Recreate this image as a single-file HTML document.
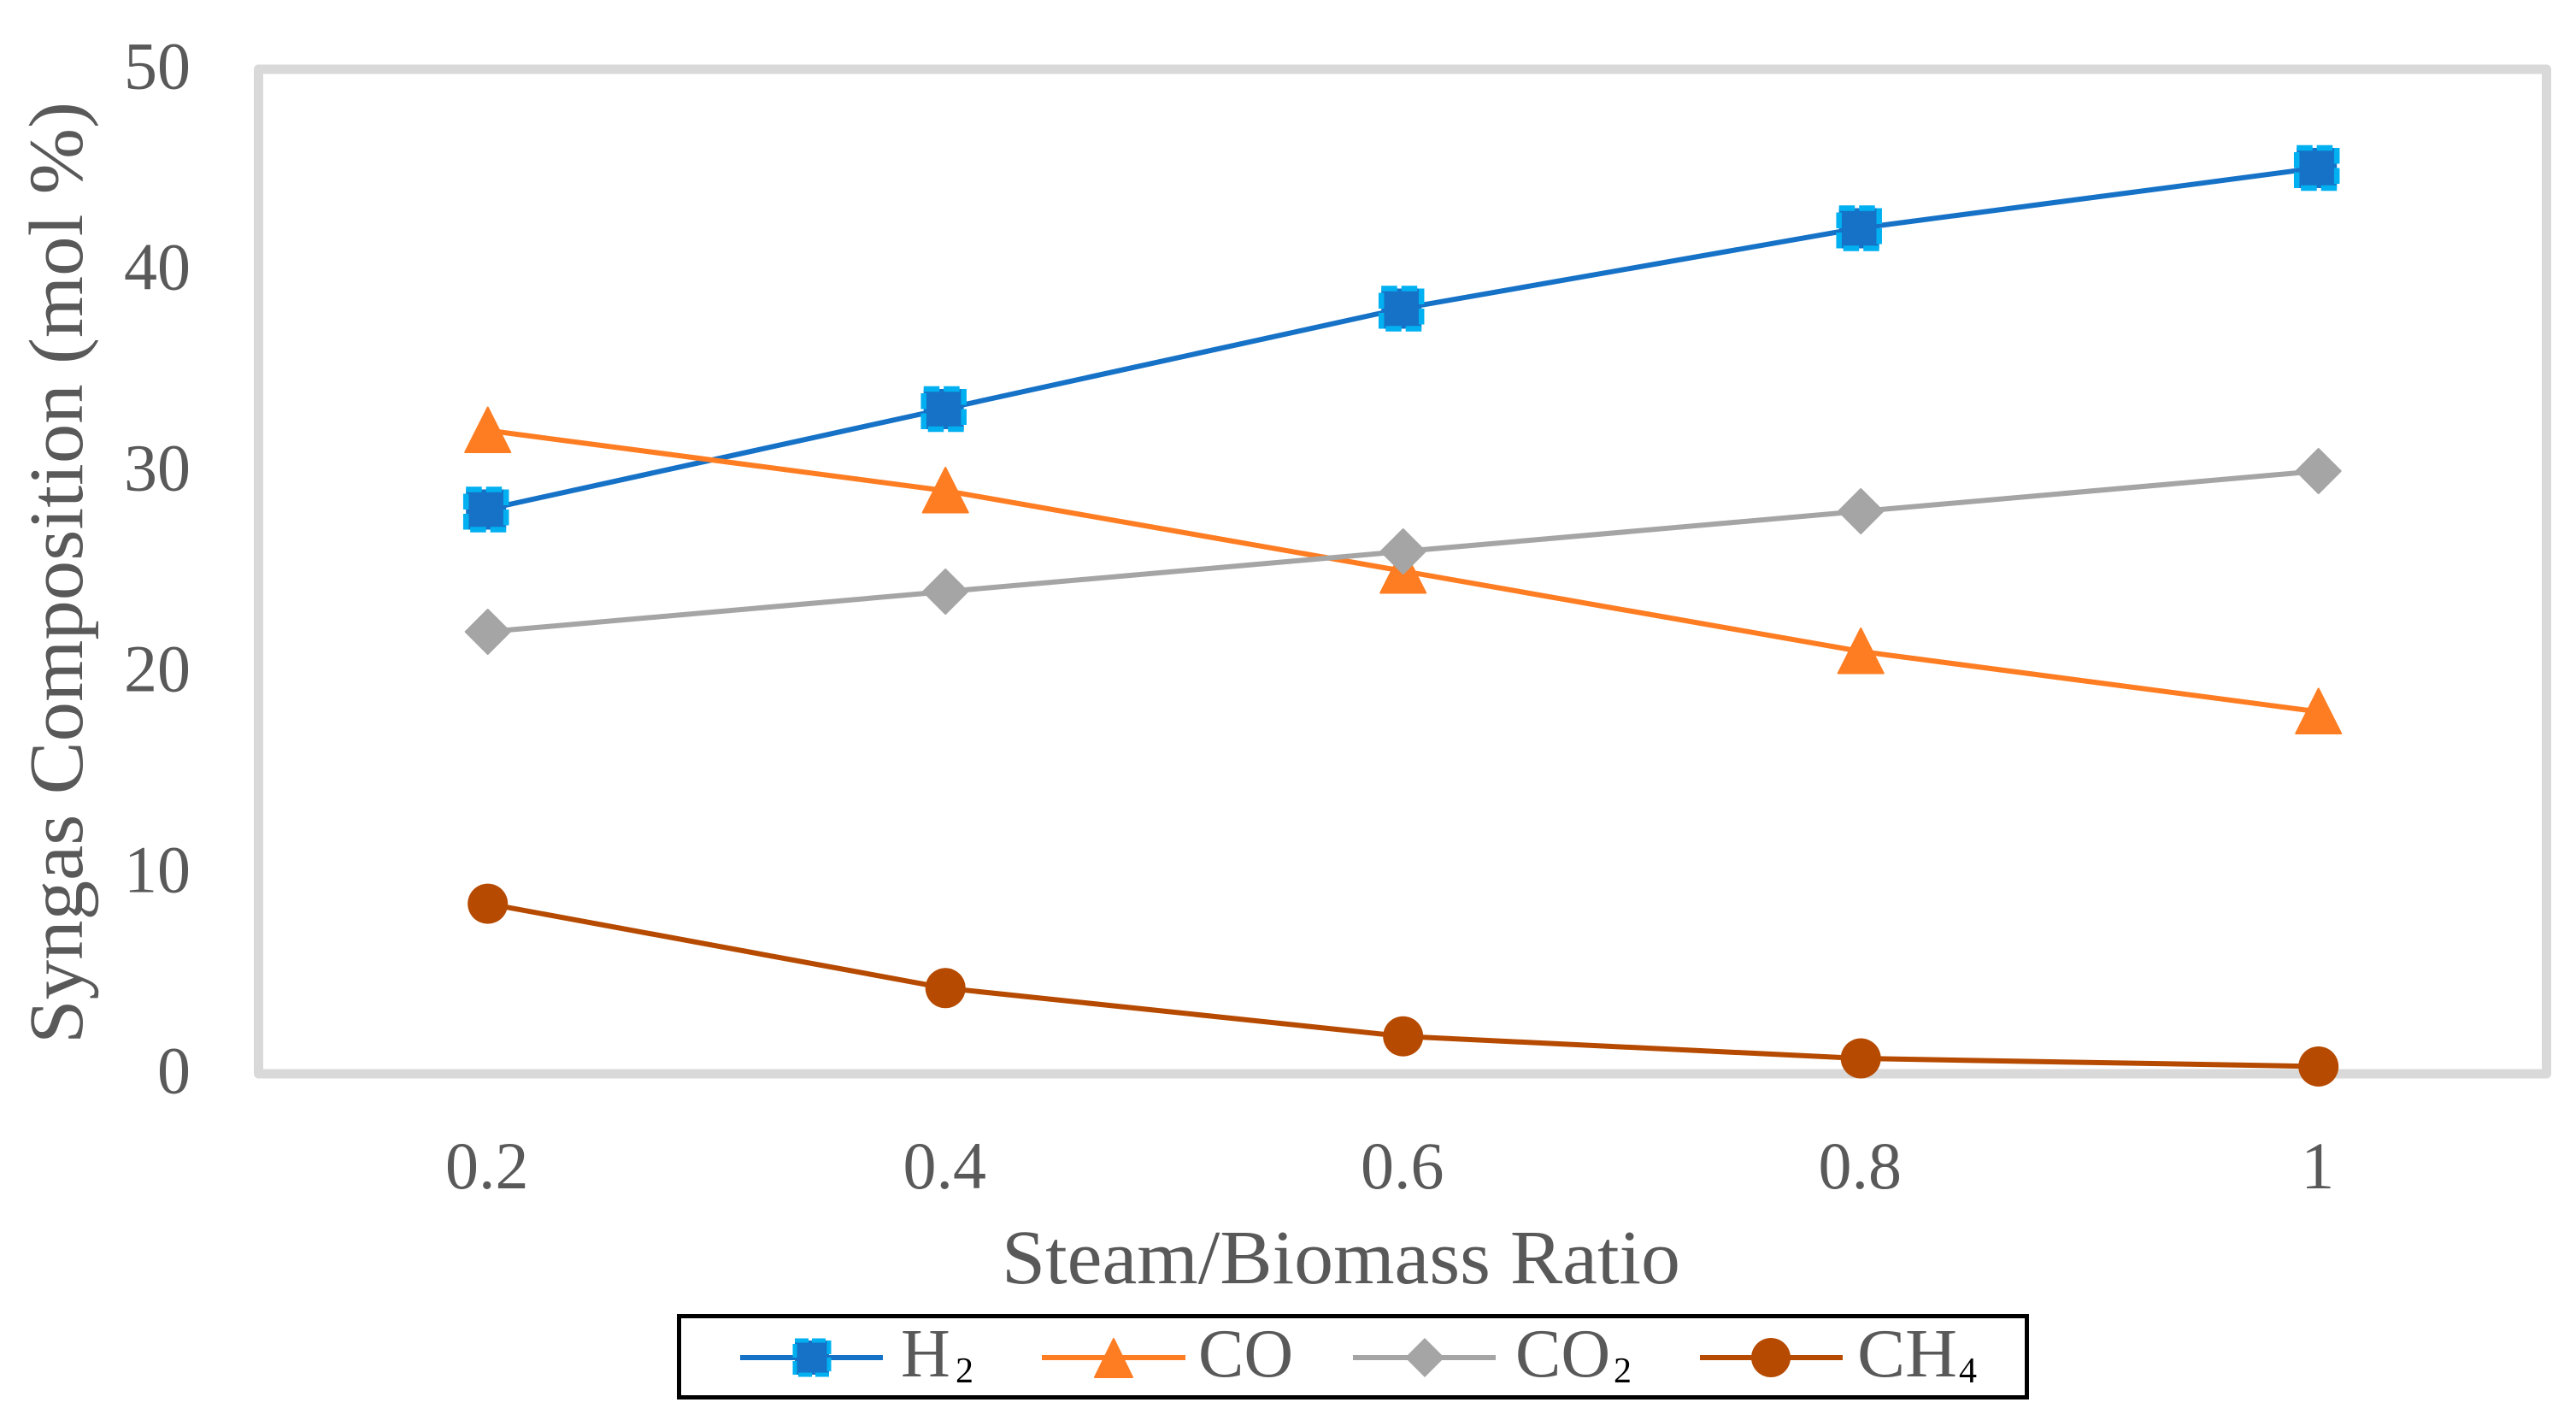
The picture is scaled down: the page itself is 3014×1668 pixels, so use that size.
<!DOCTYPE html>
<html lang="en">
<head>
<meta charset="utf-8">
<title>Syngas Composition vs Steam/Biomass Ratio</title>
<style>
html,body{margin:0;padding:0;background:#fff;width:3014px;height:1668px;overflow:hidden}
svg{display:block}
text{font-family:"Liberation Serif",serif;fill:#595959}
</style>
</head>
<body>
<svg id="chart" xmlns="http://www.w3.org/2000/svg" width="3014" height="1668" viewBox="0 0 3014 1668">
  <rect x="0" y="0" width="3014" height="1668" fill="#fff"/>
  <rect x="302.5" y="81" width="2677" height="1175" fill="none" stroke="#D9D9D9" stroke-width="11" stroke-linejoin="round"/>
  <g id="y-ticks"></g>
  <g id="x-ticks"></g>
  <g id="series"></g>
  <text transform="translate(96,1221) rotate(-90)" font-size="90" textLength="1102" lengthAdjust="spacingAndGlyphs">Syngas Composition (mol %)</text>
  <text x="1172" y="1501" font-size="90" textLength="794" lengthAdjust="spacingAndGlyphs">Steam/Biomass Ratio</text>

  <g>
    <rect x="794.5" y="1539.5" width="1577" height="95" fill="#fff" stroke="#000" stroke-width="5"/>
    <g>
      <line x1="866" y1="1588" x2="1033" y2="1588" stroke="#1672C7" stroke-width="6"/>
      <rect x="930" y="1568" width="40" height="40" fill="#1672C7" stroke="#00B0F0" stroke-width="5" stroke-dasharray="16 4"/>
      <text x="1054" y="1610" font-size="80">H</text>
      <text x="1118" y="1617" font-size="42" style="fill:#000">2</text>
    </g>
    <g>
      <line x1="1219" y1="1588" x2="1387" y2="1588" stroke="#FE7D22" stroke-width="6"/>
      <polygon points="1303,1566 1325,1611 1281,1611" fill="#FE7D22" stroke="#FE7D22" stroke-width="2" stroke-linejoin="round"/>
      <text x="1402" y="1610" font-size="80">CO</text>
    </g>
    <g>
      <line x1="1583" y1="1588" x2="1750" y2="1588" stroke="#A5A5A5" stroke-width="6"/>
      <polygon points="1667,1565 1690,1588 1667,1611 1644,1588" fill="#A5A5A5"/>
      <text x="1773" y="1610" font-size="80">CO</text>
      <text x="1888" y="1617" font-size="42" style="fill:#000">2</text>
    </g>
    <g>
      <line x1="1989" y1="1588" x2="2156" y2="1588" stroke="#B64A00" stroke-width="6"/>
      <circle cx="2072" cy="1588" r="23" fill="#B64A00"/>
      <text x="2173" y="1610" font-size="80" textLength="117" lengthAdjust="spacingAndGlyphs">CH</text>
      <text x="2292" y="1617" font-size="42" style="fill:#000">4</text>
    </g>
  </g>
</svg>
<script>
var categories = ['0.2', '0.4', '0.6', '0.8', '1'];
var yTickLabels = [0, 10, 20, 30, 40, 50];
var h2Values = [28, 33, 38, 42, 45];
var coValues = [32, 29, 25, 21, 18];
var co2Values = [22, 24, 26, 28, 30];
var ch4Values = [8.4, 4.2, 1.8, 0.7, 0.3];

var NS = 'http://www.w3.org/2000/svg';
function xScale(i) { return 570.7 + 535.5 * i; }
function yScale(v) { return 1256.5 - v * 23.5; }

function make(tag, attrs) {
  var el = document.createElementNS(NS, tag);
  for (var k in attrs) { el.setAttribute(k, attrs[k]); }
  return el;
}

var yGroup = document.getElementById('y-ticks');
yTickLabels.forEach(function (t) {
  var el = make('text', { x: 223, y: yScale(t) + 22, 'font-size': 78, 'text-anchor': 'end' });
  
  
  el.textContent = String(t);
  yGroup.appendChild(el);
});

var xGroup = document.getElementById('x-ticks');
categories.forEach(function (c, i) {
  var el = make('text', { x: xScale(i) - 1, y: 1390, 'font-size': 78, 'text-anchor': 'middle' });
  
  
  el.textContent = c;
  xGroup.appendChild(el);
});

var seriesGroup = document.getElementById('series');

function drawLine(values, color, dx, dy) {
  var pts = values.map(function (v, i) { return (xScale(i) + dx) + ',' + (yScale(v) + dy); }).join(' ');
  var el = make('polyline', { points: pts, fill: 'none', stroke: color, 'stroke-width': 6, 'stroke-linejoin': 'round' });
  
  
  seriesGroup.appendChild(el);
}

function squareMarker(cx, cy) {
  var el = make('rect', { x: cx - 23.5, y: cy - 23.5, width: 47, height: 47, fill: '#1672C7', stroke: '#00B0F0', 'stroke-width': 6.5, 'stroke-dasharray': '18.5 5' });
  
  
  seriesGroup.appendChild(el);
}

function triangleMarker(cx, cy) {
  var pts = cx + ',' + (cy - 27) + ' ' + (cx + 26.5) + ',' + (cy + 25.5) + ' ' + (cx - 26.5) + ',' + (cy + 25.5);
  var el = make('polygon', { points: pts, fill: '#FE7D22', stroke: '#FE7D22', 'stroke-width': 2, 'stroke-linejoin': 'round' });
  
  
  seriesGroup.appendChild(el);
}

function diamondMarker(cx, cy) {
  var pts = cx + ',' + (cy - 26) + ' ' + (cx + 26) + ',' + cy + ' ' + cx + ',' + (cy + 26) + ' ' + (cx - 26) + ',' + cy;
  var el = make('polygon', { points: pts, fill: '#A5A5A5', stroke: '#A5A5A5', 'stroke-width': 2, 'stroke-linejoin': 'round' });
  
  
  seriesGroup.appendChild(el);
}

function circleMarker(cx, cy) {
  var el = make('circle', { cx: cx, cy: cy, r: 23.5, fill: '#B64A00' });
  
  
  seriesGroup.appendChild(el);
}

function drawSeries(values, color, dx, dy, marker) {
  drawLine(values, color, dx, dy);
  values.forEach(function (v, i) { marker(xScale(i) + dx, yScale(v) + dy); });
}

drawSeries(h2Values, '#1672C7', -2, -2.5, squareMarker);
drawSeries(coValues, '#FE7D22', 0, -1, triangleMarker);
drawSeries(co2Values, '#A5A5A5', 0, -0.5, diamondMarker);
drawSeries(ch4Values, '#B64A00', 0, -2, circleMarker);
</script>
</body>
</html>
